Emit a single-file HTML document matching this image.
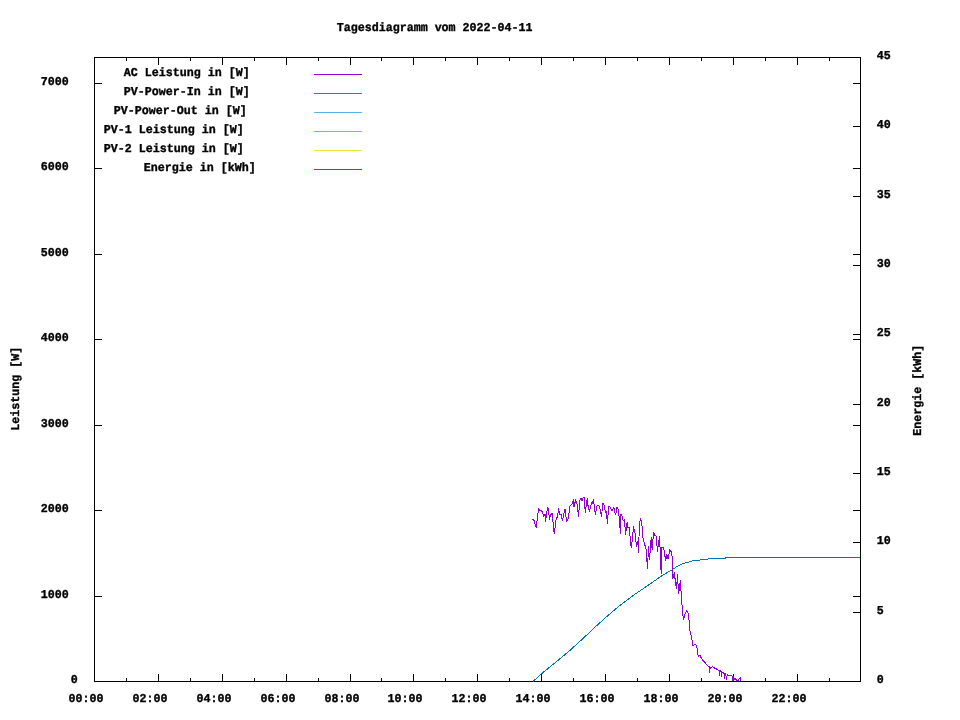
<!DOCTYPE html>
<html lang="de"><head><meta charset="utf-8"><title>Tagesdiagramm vom 2022-04-11</title>
<style>html,body{margin:0;padding:0;background:#fff;}svg{display:block;}text{font-family:"Liberation Mono","DejaVu Sans Mono",monospace;font-weight:bold;font-size:11.667px;fill:#000;stroke:#000;stroke-width:0.35px;text-rendering:geometricPrecision;white-space:pre;}</style>
</head><body>
<svg width="960" height="720" viewBox="0 0 960 720">
<rect width="960" height="720" fill="#fff"/>
<g shape-rendering="crispEdges" stroke="#000" stroke-width="1" fill="none">
<path d="M94 57.5H861"/>
<path d="M94 681.5H861"/>
<path d="M94.5 57V682"/>
<path d="M860.5 57V682"/>
<path d="M94 681.5H102"/>
<path d="M853 681.5H861"/>
<path d="M94 596.5H102"/>
<path d="M853 596.5H861"/>
<path d="M94 510.5H102"/>
<path d="M853 510.5H861"/>
<path d="M94 425.5H102"/>
<path d="M853 425.5H861"/>
<path d="M94 339.5H102"/>
<path d="M853 339.5H861"/>
<path d="M94 254.5H102"/>
<path d="M853 254.5H861"/>
<path d="M94 168.5H102"/>
<path d="M853 168.5H861"/>
<path d="M94 83.5H102"/>
<path d="M853 83.5H861"/>
<path d="M853 681.5H861"/>
<path d="M853 612.5H861"/>
<path d="M853 542.5H861"/>
<path d="M853 473.5H861"/>
<path d="M853 404.5H861"/>
<path d="M853 334.5H861"/>
<path d="M853 265.5H861"/>
<path d="M853 196.5H861"/>
<path d="M853 126.5H861"/>
<path d="M853 57.5H861"/>
<path d="M94.5 674V682"/>
<path d="M94.5 57V65"/>
<path d="M126.5 678V682"/>
<path d="M126.5 57V61"/>
<path d="M158.5 674V682"/>
<path d="M158.5 57V65"/>
<path d="M190.5 678V682"/>
<path d="M190.5 57V61"/>
<path d="M222.5 674V682"/>
<path d="M222.5 57V65"/>
<path d="M254.5 678V682"/>
<path d="M254.5 57V61"/>
<path d="M286.5 674V682"/>
<path d="M286.5 57V65"/>
<path d="M318.5 678V682"/>
<path d="M318.5 57V61"/>
<path d="M350.5 674V682"/>
<path d="M350.5 57V65"/>
<path d="M381.5 678V682"/>
<path d="M381.5 57V61"/>
<path d="M413.5 674V682"/>
<path d="M413.5 57V65"/>
<path d="M445.5 678V682"/>
<path d="M445.5 57V61"/>
<path d="M477.5 674V682"/>
<path d="M477.5 57V65"/>
<path d="M509.5 678V682"/>
<path d="M509.5 57V61"/>
<path d="M541.5 674V682"/>
<path d="M541.5 57V65"/>
<path d="M573.5 678V682"/>
<path d="M573.5 57V61"/>
<path d="M605.5 674V682"/>
<path d="M605.5 57V65"/>
<path d="M637.5 678V682"/>
<path d="M637.5 57V61"/>
<path d="M669.5 674V682"/>
<path d="M669.5 57V65"/>
<path d="M701.5 678V682"/>
<path d="M701.5 57V61"/>
<path d="M733.5 674V682"/>
<path d="M733.5 57V65"/>
<path d="M765.5 678V682"/>
<path d="M765.5 57V61"/>
<path d="M797.5 674V682"/>
<path d="M797.5 57V65"/>
<path d="M829.5 678V682"/>
<path d="M829.5 57V61"/>
</g>
<text transform="translate(70.7,683) scale(1,1.03)">0</text>
<text transform="translate(40.7,598) scale(1,1.03)">1000</text>
<text transform="translate(40.7,512) scale(1,1.03)">2000</text>
<text transform="translate(40.7,427) scale(1,1.03)">3000</text>
<text transform="translate(40.7,341) scale(1,1.03)">4000</text>
<text transform="translate(40.7,256) scale(1,1.03)">5000</text>
<text transform="translate(40.7,170) scale(1,1.03)">6000</text>
<text transform="translate(40.7,85) scale(1,1.03)">7000</text>
<text transform="translate(876.7,683) scale(1,1.03)">0</text>
<text transform="translate(876.7,614) scale(1,1.03)">5</text>
<text transform="translate(876.7,544) scale(1,1.03)">10</text>
<text transform="translate(876.7,475) scale(1,1.03)">15</text>
<text transform="translate(876.7,406) scale(1,1.03)">20</text>
<text transform="translate(876.7,336) scale(1,1.03)">25</text>
<text transform="translate(876.7,267) scale(1,1.03)">30</text>
<text transform="translate(876.7,198) scale(1,1.03)">35</text>
<text transform="translate(876.7,128) scale(1,1.03)">40</text>
<text transform="translate(876.7,59) scale(1,1.03)">45</text>
<text transform="translate(68.5,702) scale(1,1.03)">00:00</text>
<text transform="translate(132.5,702) scale(1,1.03)">02:00</text>
<text transform="translate(196.5,702) scale(1,1.03)">04:00</text>
<text transform="translate(260.5,702) scale(1,1.03)">06:00</text>
<text transform="translate(324.5,702) scale(1,1.03)">08:00</text>
<text transform="translate(387.5,702) scale(1,1.03)">10:00</text>
<text transform="translate(451.5,702) scale(1,1.03)">12:00</text>
<text transform="translate(515.5,702) scale(1,1.03)">14:00</text>
<text transform="translate(579.5,702) scale(1,1.03)">16:00</text>
<text transform="translate(643.5,702) scale(1,1.03)">18:00</text>
<text transform="translate(707.5,702) scale(1,1.03)">20:00</text>
<text transform="translate(771.5,702) scale(1,1.03)">22:00</text>
<text transform="translate(336.7,31) scale(1,1.03)">Tagesdiagramm vom 2022-04-11</text>
<text transform="translate(19,430.7) rotate(-90) scale(1,1.03)">Leistung [W]</text>
<text transform="translate(921,435.7) rotate(-90) scale(1,1.03)">Energie [kWh]</text>
<text transform="translate(123.8,76) scale(1,1.03)">AC Leistung in [W]</text>
<path d="M314 74.5H362" stroke="#9400d3" stroke-width="1" shape-rendering="crispEdges"/>
<text transform="translate(123.8,95) scale(1,1.03)">PV-Power-In in [W]</text>
<path d="M314 93.5H362" stroke="#009e73" stroke-width="1" shape-rendering="crispEdges"/>
<text transform="translate(113.8,114) scale(1,1.03)">PV-Power-Out in [W]</text>
<path d="M314 112.5H362" stroke="#56b4e9" stroke-width="1" shape-rendering="crispEdges"/>
<text transform="translate(103.8,133) scale(1,1.03)">PV-1 Leistung in [W]</text>
<path d="M314 131.5H362" stroke="#e69f00" stroke-width="1" shape-rendering="crispEdges"/>
<text transform="translate(103.8,152) scale(1,1.03)">PV-2 Leistung in [W]</text>
<path d="M314 150.5H362" stroke="#f0e442" stroke-width="1" shape-rendering="crispEdges"/>
<text transform="translate(143.8,171) scale(1,1.03)">Energie in [kWh]</text>
<path d="M314 169.5H362" stroke="#0072b2" stroke-width="1" shape-rendering="crispEdges"/>
<g shape-rendering="crispEdges">
<polyline points="532.1,519.4 534.0,520.2 536.2,527.5 538.5,508.8 540.0,510.6 541.2,510.0 542.5,512.5 543.8,516.9 545.0,513.8 545.6,521.2 547.5,507.5 548.5,508.8 549.4,519.4 550.6,515.0 552.2,513.1 553.8,531.2 554.4,533.1 556.2,518.8 557.5,516.9 558.5,508.8 559.8,515.0 561.0,514.4 562.5,520.6 565.0,508.8 566.5,521.2 568.1,518.8 570.0,506.2 572.5,503.8 573.5,499.4 574.0,506.9 575.6,500.0 577.5,505.6 578.4,516.2 580.0,500.0 581.2,498.1 581.9,501.2 583.1,497.5 584.4,497.5 585.2,513.1 587.2,498.8 588.1,506.2 589.4,511.2 591.9,501.9 592.5,503.8 593.5,499.4 594.8,510.0 595.4,514.4 596.9,506.2 598.8,505.0 600.0,508.8 601.5,516.9 602.8,503.1 603.8,503.8 605.6,512.5 606.2,511.9 607.5,523.1 608.5,506.9 610.0,506.9 611.9,510.6 613.8,507.5 615.6,515.0 616.9,507.5 618.1,508.8 619.4,518.8 620.4,533.1 621.0,514.4 622.5,516.9 623.1,520.6 624.4,520.0 625.6,534.4 627.2,521.9 627.8,527.5 629.4,527.5 630.6,543.8 631.5,547.5 633.5,526.9 635.0,532.5 636.5,546.9 638.1,541.2 638.5,552.5 639.4,525.0 640.6,518.1 641.9,524.4 643.1,538.8 644.4,543.1 646.2,550.0 647.5,568.8 648.5,546.9 649.4,559.4 650.6,546.2 651.2,537.5 652.2,550.0 653.5,532.5 655.0,535.6 656.2,536.2 657.5,551.2 659.4,536.9 660.0,546.9 661.2,573.8 661.9,546.9 663.8,548.1 665.6,560.6 666.9,554.4 668.1,558.8 669.8,549.4 671.2,551.9 672.4,558.5 672.6,578.8 673.2,576.8 674.4,572.2 675.4,582.5 676.5,588.8 677.5,575.0 678.6,593.8 680.4,580.0 680.8,590.8 681.6,591.8 681.9,603.2 683.1,616.9 683.8,619.4 685.0,613.8 686.9,610.6 688.1,613.1 689.0,620.0 689.8,630.0 690.6,633.1 691.9,639.4 693.1,646.2 694.4,644.4 696.0,645.0 696.9,647.5 697.8,655.0 698.8,656.2 700.0,655.6 702.5,660.0 705.0,662.5 707.5,665.8 709.1,666.7 709.9,667.1 709.5,672.5 710.3,667.5 711.2,667.9 712.4,666.2 713.2,667.5 715.3,668.3 717.4,669.6 719.5,670.8 719.5,675.4 720.3,670.8 721.2,671.7 721.6,676.2 722.0,672.1 723.2,672.9 724.5,674.2 724.5,678.3 725.3,673.3 725.8,675.0 726.6,679.2 727.0,675.8 727.4,674.6 728.2,676.0 729.5,675.4 731.6,675.4 732.2,676.2 732.4,680.8 733.0,675.8 733.7,680.7 734.5,678.3 735.8,679.2 736.6,680.2 737.8,680.7 738.7,679.6 740.3,677.9 740.5,681.2" fill="none" stroke="#9400d3" stroke-width="1" stroke-linejoin="round"/>
<polyline points="533.0,681.4 534.4,680.3 541.2,674.0 555.0,662.8 570.0,650.3 582.5,639.0 595.0,627.2 607.5,615.9 620.0,605.3 632.5,595.9 641.3,590.0 650.0,584.0 660.8,576.5 672.5,569.5 678.3,565.7 683.3,563.5 689.2,561.9 692.5,560.7 699.5,560.5 700.2,559.5 707.8,559.5 708.5,558.5 725.3,558.5 726.0,557.5 860.0,557.5" fill="none" stroke="#0072b2" stroke-width="1" stroke-linejoin="round"/>
</g>
</svg></body></html>
